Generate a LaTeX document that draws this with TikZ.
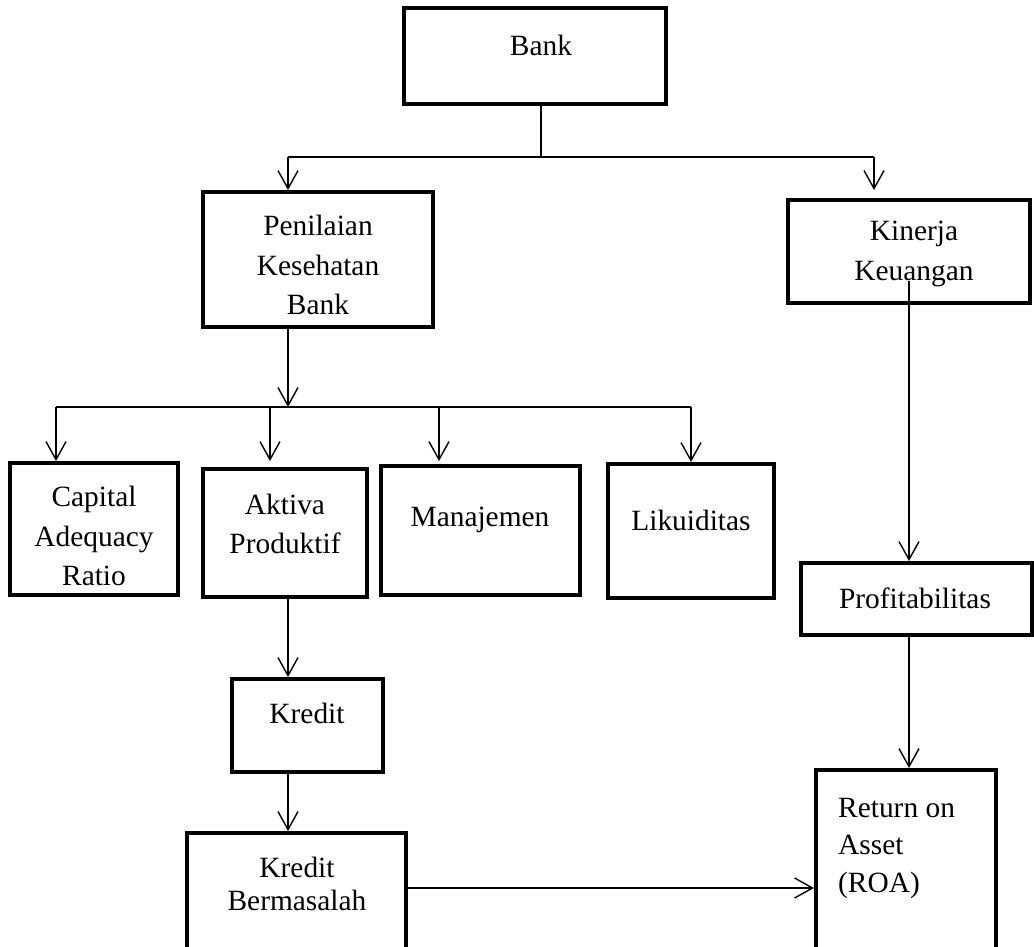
\documentclass[tikz,border=0pt]{standalone}
\usepackage{fontspec}
\setmainfont{Liberation Serif}
\usetikzlibrary{arrows.meta}
\begin{document}
\begin{tikzpicture}[x=1pt,y=-1pt,
  box/.style={draw=black,line width=4pt,rectangle,inner sep=0pt},
  lbl/.style={inner sep=0pt,font=\fontsize{29.4}{39.5}\selectfont,align=center},
  conn/.style={line width=1.4pt},
  arr/.style={conn,-{Straight Barb[length=18pt,width=20pt,line width=1.4pt]}}]
\useasboundingbox (0,0) rectangle (1034,946);
% boxes
\node[box,minimum width=262pt,minimum height=96pt] (bank) at (535,56) {};
\node[box,minimum width=230pt,minimum height=135pt] (pen) at (318,259.5) {};
\node[box,minimum width=242pt,minimum height=103pt] (kin) at (909,251.5) {};
\node[box,minimum width=168pt,minimum height=132pt] (car) at (94,529) {};
\node[box,minimum width=164pt,minimum height=128pt] (akt) at (285,533) {};
\node[box,minimum width=199pt,minimum height=129pt] (man) at (480.5,530.5) {};
\node[box,minimum width=166pt,minimum height=134pt] (lik) at (691,531) {};
\node[box,minimum width=231pt,minimum height=72pt] (pro) at (916.5,599) {};
\node[box,minimum width=151pt,minimum height=93pt] (kre) at (307.5,725.5) {};
\node[box,minimum width=219pt,minimum height=116pt] (krb) at (296.5,891) {};
\node[box,minimum width=180pt,minimum height=182pt] (roa) at (906,861) {};
% texts
\node[lbl] (tbank) at (541,45) {Bank};
\node[lbl] (tpen) at (318,265) {Penilaian\\Kesehatan\\Bank};
\node[lbl] (tkin) at (914,254) {Kinerja\\Keuangan};
\node[lbl] (tcar) at (94,536) {Capital\\Adequacy\\Ratio};
\node[lbl] (takt) at (285,524) {Aktiva\\Produktif};
\node[lbl] (tman) at (480,520) {Manajemen};
\node[lbl] (tlik) at (691,520) {Likuiditas};
\node[lbl] (tpro) at (915,598) {Profitabilitas};
\node[lbl] (tkre) at (307,713) {Kredit};
\node[lbl,font=\fontsize{29.4}{33}\selectfont] (tkrb) at (297,884) {Kredit\\Bermasalah};
\node[lbl,align=left,anchor=west,font=\fontsize{29.4}{37.5}\selectfont] (troa) at (838,848) {Return on\\Asset\\(ROA)};
% connector points
\coordinate (b1) at (541,157);
\coordinate (ja) at (288,157);
\coordinate (jb) at (874,157);
\coordinate (jc) at (288,407);
\coordinate (h1) at (56,407);
\coordinate (h2) at (270,407);
\coordinate (h3) at (439,407);
\coordinate (h4) at (691,407);
\coordinate (ks) at (909,281);
% connectors
\draw[conn] (b1 |- bank.south) -- (b1);
\draw[conn] (ja) -- (jb);
\draw[arr] (ja) -- (ja |- pen.north);
\draw[arr,shorten >=8pt] (jb) -- (jb |- kin.north);
\draw[arr] (jc |- pen.south) -- (jc);
\draw[conn] (h1) -- (h4);
\draw[arr] (h1) -- (h1 |- car.north);
\draw[arr,shorten >=6pt] (h2) -- (h2 |- akt.north);
\draw[arr,shorten >=3pt] (h3) -- (h3 |- man.north);
\draw[arr] (h4) -- (h4 |- lik.north);
\draw[arr] (ks) -- (ks |- pro.north);
\draw[arr] (ks |- pro.south) -- (ks |- roa.north);
\draw[arr] (jc |- akt.south) -- (jc |- kre.north);
\draw[arr] (jc |- kre.south) -- (jc |- krb.north);
\draw[arr] (krb.east |- 0,888) -- (roa.west |- 0,888);
\end{tikzpicture}
\end{document}
